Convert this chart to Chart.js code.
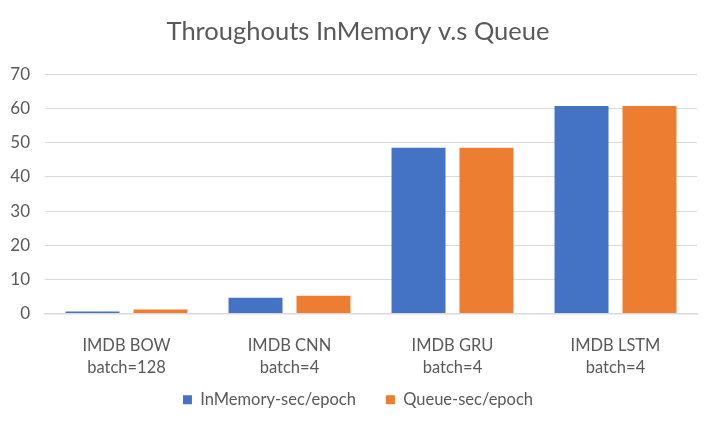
<!DOCTYPE html>
<html>
<head>
<meta charset="utf-8">
<script src="https://cdn.jsdelivr.net/npm/chart.js@4.4.0/dist/chart.umd.min.js"></script>
<style>
  html, body { margin: 0; padding: 0; background: #fff; }
  #wrap { width: 716px; height: 426px; }
</style>
</head>
<body>
<div id="wrap"><canvas id="c" width="716" height="426"></canvas></div>
<script>
const categories = [["IMDB BOW", "batch=128"], ["IMDB CNN", "batch=4"], ["IMDB GRU", "batch=4"], ["IMDB LSTM", "batch=4"]];
const inMemory = [0.6, 4.6, 48.6, 60.8];
const queue = [1.2, 5.2, 48.6, 60.8];
const seriesNames = ["InMemory-sec/epoch", "Queue-sec/epoch"];

const FONT = "Lato, 'Liberation Sans', sans-serif";
const TXT = "#595959";
const LEGEND_PAD = 30;

// Pull the legend up toward the axis labels while keeping a wide gap between items.
const legendShift = {
  id: "legendShift",
  beforeLayout(chart) {
    const lg = chart.legend;
    if (lg && !lg._patched) {
      const f = lg.fit.bind(lg);
      lg.fit = function () { f(); this.height -= LEGEND_PAD; };
      lg._patched = true;
    }
  },
  afterLayout(chart) {
    const lg = chart.legend;
    if (lg) { lg.top -= LEGEND_PAD; }
  }
};

new Chart(document.getElementById("c"), {
  type: "bar",
  data: {
    labels: categories,
    datasets: [
      { label: seriesNames[0], data: inMemory, backgroundColor: "#4472C4", barPercentage: 0.794, categoryPercentage: 0.834 },
      { label: seriesNames[1], data: queue, backgroundColor: "#ED7D31", barPercentage: 0.794, categoryPercentage: 0.834 }
    ]
  },
  plugins: [legendShift],
  options: {
    responsive: false,
    animation: false,
    devicePixelRatio: 1,
    layout: { padding: { left: 0, right: 0, top: 0, bottom: 8 } },
    plugins: {
      title: {
        display: true,
        text: "Throughouts InMemory v.s Queue",
        color: TXT,
        font: { family: FONT, size: 25.5, weight: "normal" },
        padding: { top: 16, bottom: 28 }
      },
      legend: {
        position: "bottom",
        labels: {
          color: TXT,
          font: { family: FONT, size: 16.5 },
          boxWidth: 9,
          boxHeight: 9,
          padding: LEGEND_PAD
        }
      },
      tooltip: { enabled: false }
    },
    scales: {
      y: {
        min: 0, max: 70,
        ticks: { stepSize: 10, color: TXT, font: { family: FONT, size: 17 }, padding: 15 },
        grid: { color: "#d9d9d9", lineWidth: 1, drawTicks: false },
        border: { display: false },
        afterFit: (s) => { s.width = 45; }
      },
      yRight: {
        position: "right",
        min: 0, max: 70,
        ticks: { display: false },
        grid: { display: false, drawTicks: false },
        border: { display: false },
        afterFit: (s) => { s.width = 19; }
      },
      x: {
        ticks: { color: TXT, font: { family: FONT, size: 16.5, lineHeight: 1.333 }, padding: 13, maxRotation: 0 },
        grid: { display: false },
        border: { display: true, color: "#d9d9d9", width: 1.5 }
      }
    }
  }
});
</script>
</body>
</html>
